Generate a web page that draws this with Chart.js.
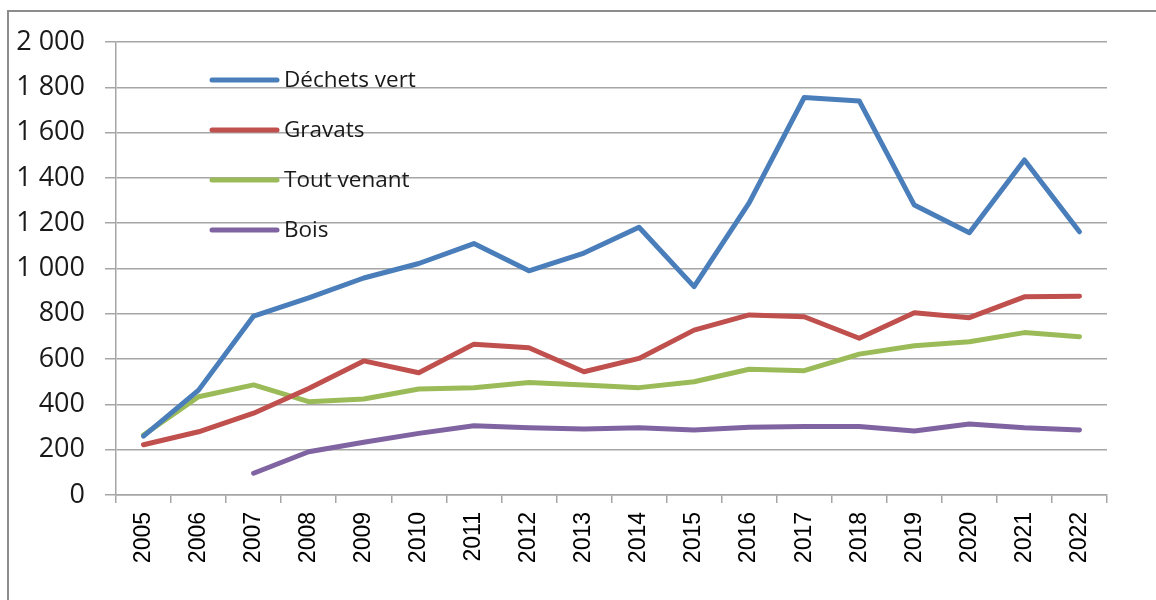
<!DOCTYPE html>
<html>
<head>
<meta charset="utf-8">
<script src="https://cdn.jsdelivr.net/npm/chart.js@4"></script>
<style>
  html,body{margin:0;padding:0;background:#fff;}
  #wrap{position:relative;width:1156px;height:600px;overflow:hidden;}
  #frame{position:absolute;left:7px;top:10px;width:1200px;height:700px;border-left:2px solid #8c8c8c;border-top:2px solid #8c8c8c;pointer-events:none;}
  canvas{position:absolute;left:0;top:0;}
</style>
</head>
<body>
<div id="wrap">
<canvas id="c" width="1156" height="600"></canvas>
<div id="frame"></div>
</div>
<script>
const years = ['2005','2006','2007','2008','2009','2010','2011','2012','2013','2014','2015','2016','2017','2018','2019','2020','2021','2022'];
const dechetsVert = [260, 463, 790, 870, 958, 1022, 1110, 990, 1068, 1182, 920, 1290, 1755, 1740, 1280, 1158, 1479, 1162];
const gravats     = [222, 279, 361, 470, 592, 540, 666, 650, 544, 603, 728, 795, 787, 692, 805, 783, 875, 878];
const toutVenant  = [265, 434, 486, 412, 424, 468, 474, 497, 486, 474, 500, 555, 549, 622, 659, 677, 717, 699];
const bois        = [null, null, 96, 191, 233, 272, 306, 297, 291, 297, 287, 299, 302, 302, 283, 313, 297, 287];
const seriesNames = ['Déchets vert', 'Gravats', 'Tout venant', 'Bois'];
const seriesColors = ['#4a7ebb', '#c0504d', '#9bbb59', '#8064a2'];

function fmt(v){ return String(v).replace(/\B(?=(\d{3})+(?!\d))/g, ' '); }

const innerLegend = {
  id: 'innerLegend',
  afterDraw(chart, args, opts) {
    const ctx = chart.ctx;
    const ca = chart.chartArea;
    ctx.save();
    chart.data.datasets.forEach((ds, i) => {
      const y = ca.top + opts.firstRow + i * opts.rowGap;
      ctx.strokeStyle = ds.borderColor;
      ctx.lineWidth = 5;
      ctx.lineCap = 'round';
      ctx.beginPath();
      ctx.moveTo(ca.left + opts.lineStart, y);
      ctx.lineTo(ca.left + opts.lineEnd, y);
      ctx.stroke();
      ctx.fillStyle = '#1a1a1a';
      ctx.font = opts.font;
      ctx.textBaseline = 'middle';
      ctx.textAlign = 'left';
      ctx.fillText(ds.label, ca.left + opts.textStart, y + 1);
    });
    ctx.restore();
  }
};

const values = [dechetsVert, gravats, toutVenant, bois];
new Chart(document.getElementById('c'), {
  type: 'line',
  data: {
    labels: years,
    datasets: values.map((v, i) => ({
      label: seriesNames[i],
      data: v,
      borderColor: seriesColors[i],
      backgroundColor: seriesColors[i],
      borderWidth: 5,
      pointRadius: 0,
      tension: 0,
      borderCapStyle: 'round',
      borderJoinStyle: 'round',
      spanGaps: false
    }))
  },
  options: {
    responsive: false,
    animation: false,
    devicePixelRatio: 1,
    layout: { padding: { left: 0, top: 42, right: 49, bottom: 0 } },
    plugins: {
      legend: { display: false },
      tooltip: { enabled: false },
      innerLegend: {
        firstRow: 38, rowGap: 50, lineStart: 96, lineEnd: 161, textStart: 168,
        font: '22.5px "Open Sans"'
      }
    },
    scales: {
      x: {
        offset: true,
        grid: { offset: true, drawOnChartArea: false, tickLength: 8, color: '#a6a6a6', lineWidth: 1.5 },
        border: { color: '#a6a6a6', width: 1.5 },
        ticks: { minRotation: 90, maxRotation: 90, padding: 9, color: '#000', font: { family: 'Liberation Sans', size: 23 } },
        afterFit(scale) { scale.height = 105; }
      },
      y: {
        min: 0, max: 2000,
        ticks: { stepSize: 200, padding: 20, color: '#1a1a1a', font: { family: 'Open Sans', size: 27 }, callback: (v) => fmt(v) },
        grid: { tickLength: 11, color: '#a6a6a6', lineWidth: 1.5 },
        border: { color: '#a6a6a6', width: 1.5 },
        afterFit(scale) { scale.width = 116; }
      }
    }
  },
  plugins: [innerLegend]
});
</script>
</body>
</html>
